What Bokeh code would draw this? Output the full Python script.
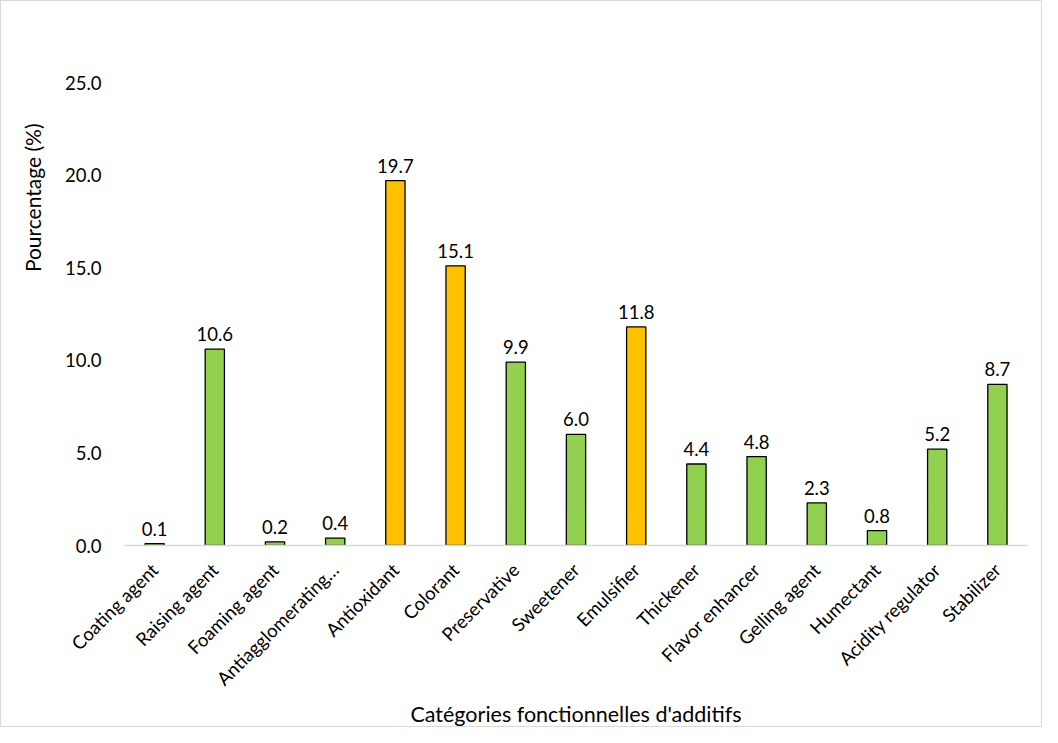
import math
from bokeh.plotting import figure
from bokeh.models import FactorRange, Range1d, FixedTicker, NumeralTickFormatter, Title, ColumnDataSource
from bokeh.core.properties import value
from bokeh.embed import file_html
from bokeh.resources import INLINE

categories = ["Coating agent", "Raising agent", "Foaming agent", "Antiagglomerating…",
              "Antioxidant", "Colorant", "Preservative", "Sweetener", "Emulsifier",
              "Thickener", "Flavor enhancer", "Gelling agent", "Humectant",
              "Acidity regulator", "Stabilizer"]
percentages = [0.1, 10.6, 0.2, 0.4, 19.7, 15.1, 9.9, 6.0, 11.8, 4.4, 4.8, 2.3, 0.8, 5.2, 8.7]
highlighted = ["Antioxidant", "Colorant", "Emulsifier"]
y_ticks = [0, 5, 10, 15, 20, 25]
x_title = "Catégories fonctionnelles d'additifs"
y_title = "Pourcentage (%)"

FONT = "Lato"
FS = "18.5px"
GREEN = "#92D050"
ORANGE = "#FFC000"

colors = [ORANGE if c in highlighted else GREEN for c in categories]
labels = [f"{v:.1f}" for v in percentages]
src = ColumnDataSource(dict(cat=categories, val=percentages, color=colors, lab=labels))

p = figure(x_range=FactorRange(factors=categories), y_range=Range1d(0, 25),
           width=1042, height=727, output_backend="svg", toolbar_location=None,
           min_border_left=119, min_border_right=16, min_border_top=81, min_border_bottom=183,
           styles={"border": "1px solid #D9D9D9"})
p.outline_line_color = None
p.background_fill_color = "white"
p.border_fill_color = "white"
p.xgrid.grid_line_color = None
p.ygrid.grid_line_color = None

p.vbar(x="cat", top="val", width=0.32, source=src, fill_color="color",
       line_color="black", line_width=1.3)

p.text(x="cat", y="val", text="lab", source=src, text_align="center",
       text_baseline="alphabetic", y_offset=-15, text_font=value(FONT),
       text_font_size=FS, text_color="black")

yax = p.yaxis[0]
yax.ticker = FixedTicker(ticks=y_ticks)
yax.formatter = NumeralTickFormatter(format="0.0")
yax.axis_line_color = None
yax.major_tick_line_color = None
yax.minor_tick_line_color = None
yax.major_label_standoff = 17
yax.major_label_text_font = FONT
yax.major_label_text_font_size = FS
yax.major_label_text_color = "black"

xax = p.xaxis[0]
xax.axis_line_color = "#D9D9D9"
xax.axis_line_width = 1.5
xax.major_tick_line_color = None
xax.minor_tick_line_color = None
xax.major_label_orientation = math.pi / 4
xax.major_label_standoff = 15
xax.major_label_text_font = FONT
xax.major_label_text_font_size = FS
xax.major_label_text_color = "black"

p.add_layout(Title(text=y_title, align="right", offset=41, standoff=33,
                   text_font=FONT, text_font_size="21px", text_font_style="normal",
                   text_color="black"), "left")
p.add_layout(Title(text=x_title, align="center", vertical_align="middle", standoff=-2,
                   text_font=FONT, text_font_size="21.5px", text_font_style="normal",
                   text_color="black"), "below")

open("out.html", "w").write(file_html(p, INLINE))
